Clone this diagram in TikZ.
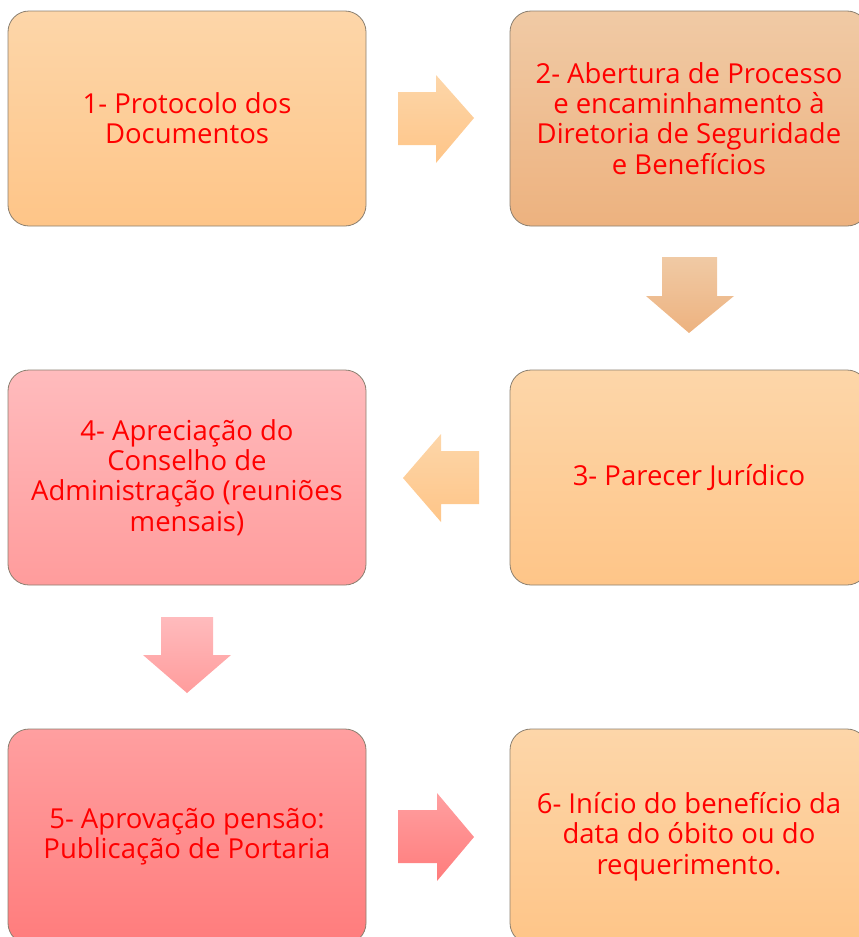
\documentclass[tikz,border=0pt]{standalone}
\usepackage{fontspec}
\setmainfont{Open Sans}
\definecolor{txtred}{HTML}{FF0000}
\definecolor{edge}{HTML}{8A7F70}
\definecolor{oTop}{HTML}{FDD6A9}
\definecolor{oBot}{HTML}{FEC588}
\definecolor{bTop}{HTML}{F0CAA5}
\definecolor{bBot}{HTML}{EDB27F}
\definecolor{pTop}{HTML}{FFBBBD}
\definecolor{pBot}{HTML}{FF9C9C}
\definecolor{rTop}{HTML}{FF9FA0}
\definecolor{rBot}{HTML}{FF7C7C}
\begin{document}
\begin{tikzpicture}[x=1pt,y=-1pt,
  stepbox/.style={draw=edge, line width=0.8pt, rounded corners=21pt,
    minimum width=358pt, minimum height=215pt, inner sep=0pt,
    align=center, text=txtred, font=\fontsize{27.5}{30.3}\selectfont},
  orange/.style={top color=oTop, bottom color=oBot},
  brown/.style={top color=bTop, bottom color=bBot},
  pinkish/.style={top color=pTop, bottom color=pBot},
  reddish/.style={top color=rTop, bottom color=rBot},
]
\useasboundingbox (0,0) rectangle (859,937);
\clip (0,0) rectangle (859,937);
\node[stepbox, orange] (s1) at (187,118.5) {1- Protocolo dos\\Documentos};
\node[stepbox, brown] (s2) at (689,118.5) {2- Abertura de Processo\\e encaminhamento à\\Diretoria de Seguridade\\e Benefícios};
\node[stepbox, orange] (s3) at (689,477.5) {3- Parecer Jurídico};
\node[stepbox, pinkish] (s4) at (187,477.5) {4- Apreciação do\\Conselho de\\Administração (reuniões\\mensais)};
\node[stepbox, reddish] (s5) at (187,836.5) {5- Aprovação pensão:\\Publicação de Portaria};
\node[stepbox, orange] (s6) at (689,836.5) {6- Início do benefício da\\data do óbito ou do\\requerimento.};
% arrow 1 -> 2
\shade[top color=oTop, bottom color=oBot]
  (398,92) -- (436,92) -- (436,75) -- (474,118) -- (436,163) -- (436,145) -- (398,145) -- cycle;
% arrow 2 -> 3
\shade[top color=bTop, bottom color=bBot]
  (662,257) -- (717,257) -- (717,296) -- (734,296) -- (689,333) -- (646,296) -- (662,296) -- cycle;
% arrow 3 -> 4
\shade[top color=oTop, bottom color=oBot]
  (479,451) -- (441,451) -- (441,434) -- (403,478) -- (441,522) -- (441,504) -- (479,504) -- cycle;
% arrow 4 -> 5
\shade[top color=pTop, bottom color=pBot]
  (161,617) -- (213,617) -- (213,655) -- (231,655) -- (187,693) -- (143,655) -- (161,655) -- cycle;
% arrow 5 -> 6
\shade[top color=rTop, bottom color=rBot]
  (398,810) -- (437,810) -- (437,793) -- (474,837) -- (437,881) -- (437,863) -- (398,863) -- cycle;
\end{tikzpicture}
\end{document}
